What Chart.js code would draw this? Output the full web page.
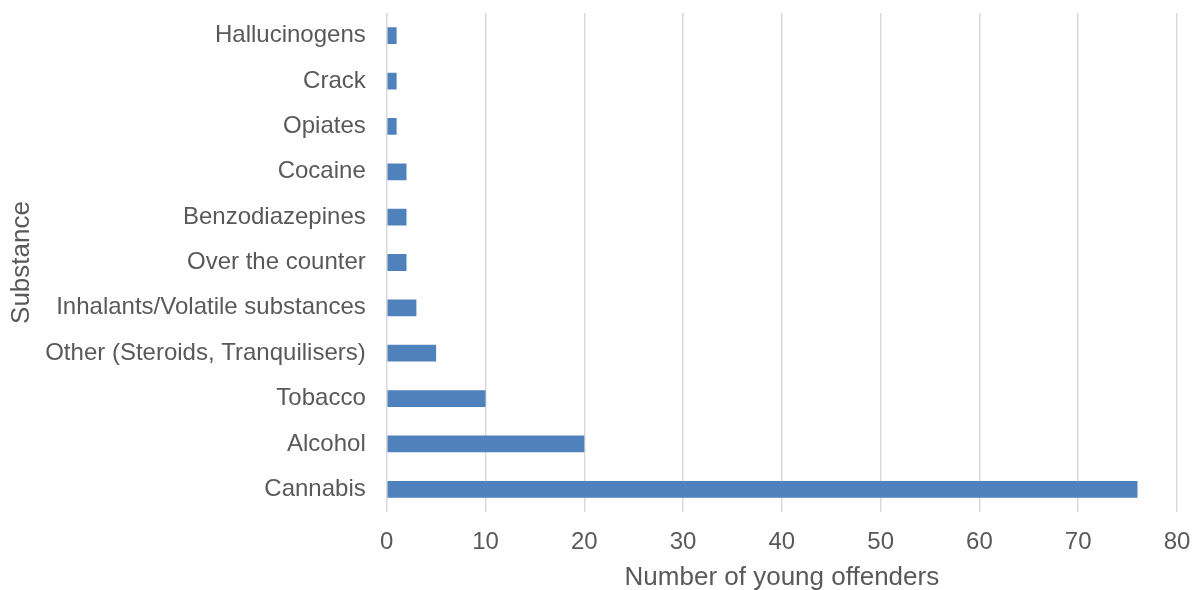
<!DOCTYPE html>
<html lang="en">
<head>
  <meta charset="UTF-8">
  <title>Substance use among young offenders</title>
  <script src="https://cdn.jsdelivr.net/npm/chart.js"></script>
  <style>
    html, body { margin: 0; padding: 0; background: #fff; }
    #wrap { width: 1197px; height: 590px; }
  </style>
</head>
<body>
  <div id="wrap"><canvas id="subChart"></canvas></div>
  <script>
    const substances = [
      "Hallucinogens", "Crack", "Opiates", "Cocaine", "Benzodiazepines",
      "Over the counter", "Inhalants/Volatile substances",
      "Other (Steroids, Tranquilisers)", "Tobacco", "Alcohol", "Cannabis"
    ];
    const offenders = [1, 1, 1, 2, 2, 2, 3, 5, 10, 20, 76];
    const xTicks = [0, 10, 20, 30, 40, 50, 60, 70, 80];

    const font = "'Liberation Sans', Arial, sans-serif";
    const textColor = "#595959";

    new Chart(document.getElementById("subChart"), {
      type: "bar",
      data: {
        labels: substances,
        datasets: [{
          label: "Number of young offenders",
          data: offenders,
          backgroundColor: "#4f81bd",
          borderWidth: 0,
          categoryPercentage: 1,
          barPercentage: 0.37
        }]
      },
      options: {
        indexAxis: "y",
        responsive: true,
        maintainAspectRatio: false,
        animation: false,
        layout: { padding: { top: 13, right: 20, bottom: 0, left: 6 } },
        plugins: { legend: { display: false }, tooltip: { enabled: false } },
        scales: {
          x: {
            min: xTicks[0],
            max: xTicks[xTicks.length - 1],
            afterBuildTicks: axis => { axis.ticks = xTicks.map(v => ({ value: v })); },
            afterFit: axis => { axis.paddingLeft = 0; axis.paddingRight = 0; },
            grid: { color: "#d9d9d9", lineWidth: 1.5, drawTicks: false },
            border: { display: false },
            ticks: { color: textColor, font: { family: font, size: 24 }, padding: 16 },
            title: {
              display: true, text: "Number of young offenders",
              color: textColor, font: { family: font, size: 26 }, padding: { top: -11, bottom: -3 }
            }
          },
          y: {
            afterFit: axis => { axis.paddingTop = 0; axis.paddingBottom = 0; },
            grid: { display: false, drawTicks: false },
            border: { display: false },
            ticks: { color: textColor, font: { family: font, size: 24 }, padding: 21 },
            title: {
              display: true, text: "Substance",
              color: textColor, font: { family: font, size: 26 }, padding: { top: 0, bottom: -13 }
            }
          }
        }
      }
    });
  </script>
</body>
</html>
